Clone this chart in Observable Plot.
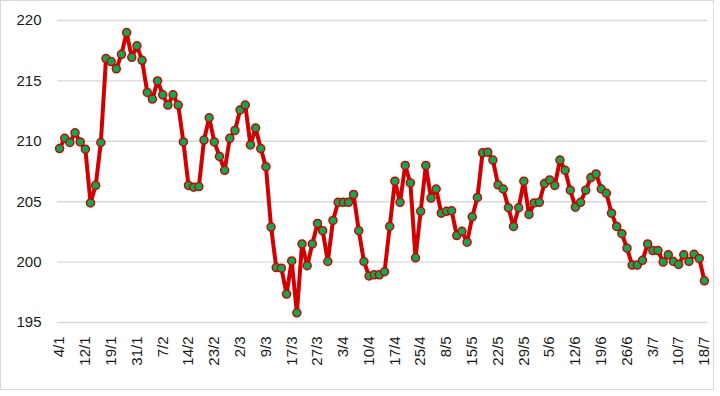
<!DOCTYPE html>
<html>
<head>
<meta charset="utf-8">
<script src="https://cdn.jsdelivr.net/npm/d3@7"></script>
<script src="https://cdn.jsdelivr.net/npm/@observablehq/plot@0.6"></script>
<style>
  html, body { margin: 0; padding: 0; background: #fff; }
  #wrap { position: relative; width: 720px; height: 396px; overflow: hidden; }
  #frame { position: absolute; left: 0; top: 0; width: 714px; height: 390px; border: 1px solid #d9d9d9; box-sizing: border-box; pointer-events: none; }
  #chart { position: absolute; left: 0; top: 0; }
</style>
</head>
<body>
<div id="wrap"><div id="chart"></div><div id="frame"></div></div>
<script>
const tickLabels = ["4/1","12/1","19/1","31/1","7/2","14/2","23/2","2/3","9/3","17/3","27/3","3/4","10/4","17/4","25/4","8/5","15/5","22/5","29/5","5/6","12/6","19/6","26/6","3/7","10/7","18/7"];

const values = [
  209.4, 210.25, 209.9, 210.7, 209.95, 209.35, 204.9, 206.35, 209.9, 216.85,
  216.6, 216.0, 217.2, 219.0, 216.95, 217.9, 216.7, 214.05, 213.5, 215.0,
  213.85, 213.0, 213.85, 213.0, 209.95, 206.35, 206.2, 206.25, 210.1, 211.95,
  209.95, 208.75, 207.6, 210.25, 210.9, 212.6, 213.0, 209.7, 211.1, 209.4,
  207.9, 202.9, 199.55, 199.5, 197.35, 200.1, 195.8, 201.5, 199.7, 201.5,
  203.2, 202.6, 200.05, 203.45, 204.95, 204.95, 204.95, 205.6, 202.6, 200.05,
  198.85, 198.95, 198.95, 199.2, 202.95, 206.7, 204.95, 208.0, 206.55, 200.35,
  204.2, 208.0, 205.3, 206.05, 204.05, 204.2, 204.25, 202.2, 202.55, 201.65,
  203.75, 205.35, 209.05, 209.1, 208.45, 206.4, 206.05, 204.5, 202.95, 204.5,
  206.7, 203.95, 204.9, 204.95, 206.5, 206.8, 206.35, 208.45, 207.6, 205.95,
  204.55, 204.95, 205.95, 207.0, 207.3, 206.05, 205.7, 204.05, 202.95, 202.35,
  201.15, 199.75, 199.75, 200.15, 201.5, 200.95, 200.95, 200.0, 200.6, 200.05,
  199.8, 200.6, 200.05, 200.65, 200.3, 198.45
];

const yTicks = [195, 200, 205, 210, 215, 220];

const data = values.map((v, i) => ({i, v}));
const xTicks = d3.range(0, values.length, 5);

const chart = Plot.plot({
  width: 720,
  height: 396,
  marginLeft: 57,
  marginRight: 13,
  marginTop: 20,
  marginBottom: 74,
  style: {fontFamily: "'Liberation Sans', Arial, sans-serif", fontSize: "15px", color: "#1a1a1a", background: "transparent"},
  x: {domain: [-0.4, values.length - 1 + 0.6]},
  y: {domain: [195, 220]},
  marks: [
    Plot.ruleY(yTicks, {stroke: "#d9d9d9", strokeWidth: 1.4}),
    Plot.axisY(yTicks, {tickSize: 0, tickPadding: 16, label: null, fontSize: 15}),
    Plot.axisX(xTicks, {tickSize: 0, tickPadding: 14, tickRotate: -90, label: null, fontSize: 15,
      tickFormat: i => tickLabels[i / 5]}),
    Plot.line(data, {x: "i", y: "v", stroke: "#d40000", strokeWidth: 4, strokeLinejoin: "round"}),
    Plot.dot(data, {x: "i", y: "v", r: 4, fill: "#00b050", stroke: "#d40000", strokeWidth: 1.5})
  ]
});
document.getElementById("chart").appendChild(chart);
</script>
</body>
</html>
